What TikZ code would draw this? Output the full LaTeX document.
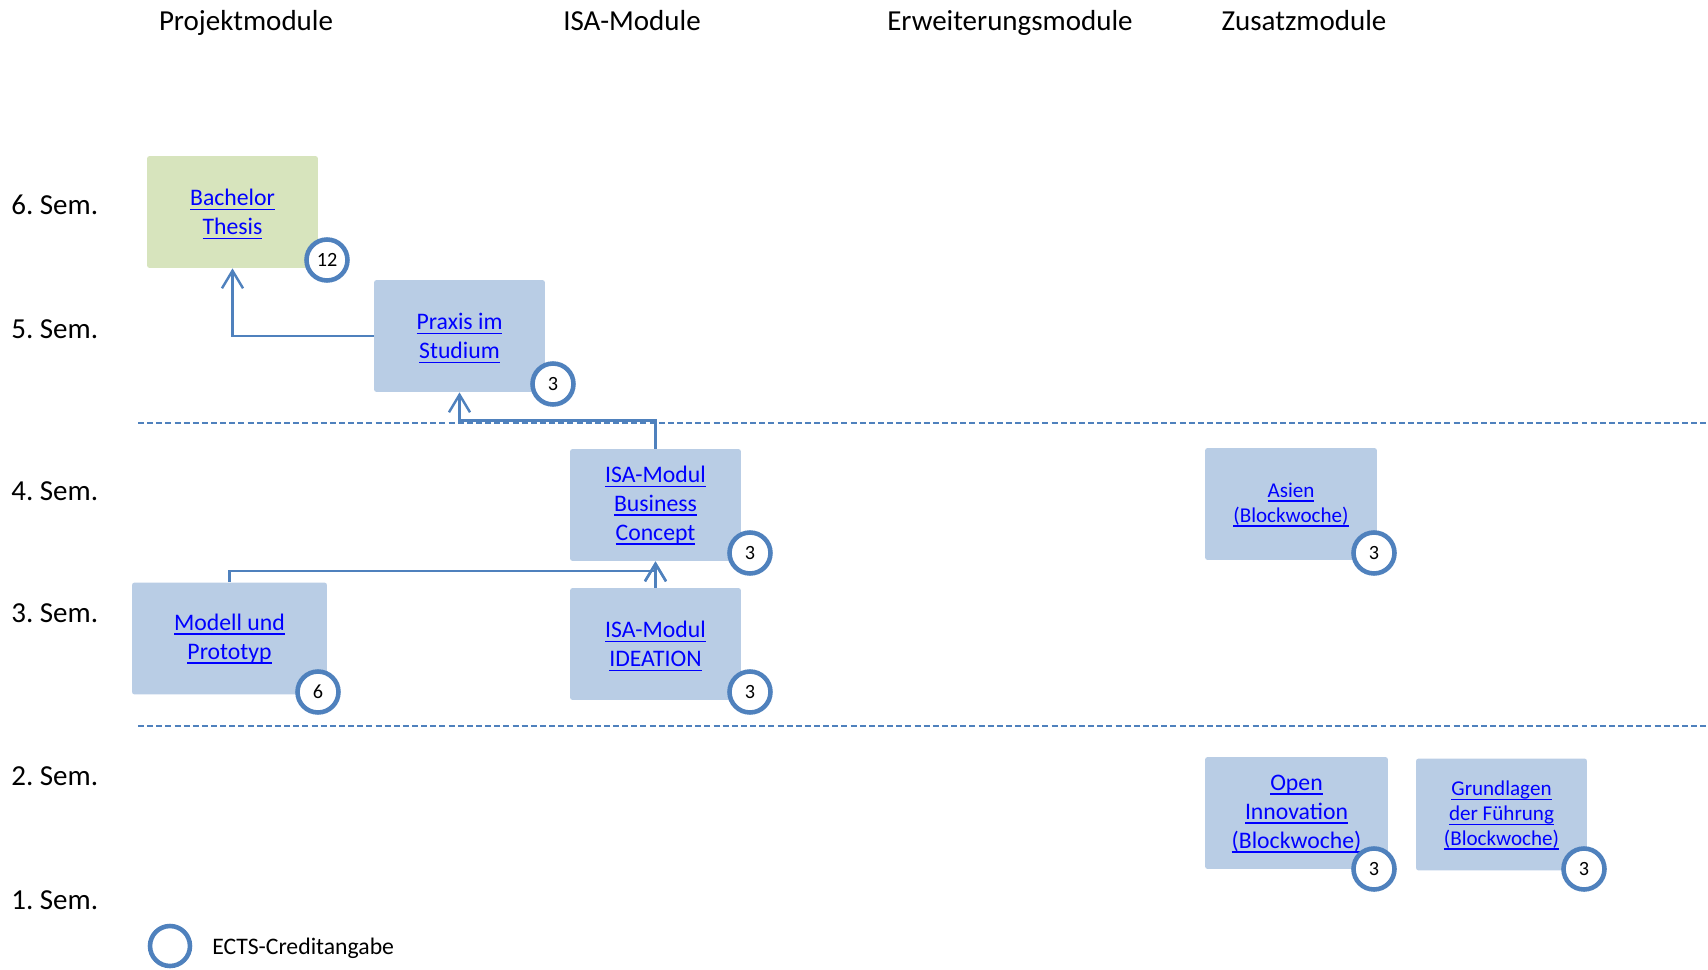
\documentclass[tikz,border=0pt]{standalone}
\usepackage{fontspec}
\setmainfont{Carlito}
\usepackage{xcolor}
\usepackage{tikz}
\usetikzlibrary{arrows.meta}

\definecolor{modblue}{HTML}{B9CDE5}
\definecolor{modgreen}{HTML}{D7E4BD}
\definecolor{ectsblue}{HTML}{4F81BD}
\definecolor{linkblue}{HTML}{0000FF}

% underlined link text
\newcommand{\lnk}[1]{\textcolor{linkblue}{\setbox0\hbox{#1}\rlap{\raisebox{-2.6pt}[0pt][0pt]{\rule{\wd0}{0.8pt}}}\box0}}
\frenchspacing

\begin{document}
\begin{tikzpicture}[x=0.02cm, y=-0.02cm, every node/.style={inner sep=0pt},
        modbox/.style={fill=modblue, rounded corners=1.5pt, minimum width=3.42cm, minimum height=2.24cm,
            align=center, font=\fontsize{13.5}{16.5}\selectfont},
        smallbox/.style={modbox, font=\fontsize{12}{14.2}\selectfont},
        ects/.style={circle, draw=ectsblue, line width=2.6pt, fill=white, minimum size=0.82cm,
            font=\fontsize{11.5}{13}\selectfont},
        conn/.style={draw=ectsblue, line width=1.4pt, -{Straight Barb[length=10pt,width=12pt]}},
        sepline/.style={draw=ectsblue, line width=0.9pt, dash pattern=on 3.4pt off 1.8pt},
        head/.style={font=\fontsize{16.5}{19}\selectfont, text height=11.5pt, text depth=3.5pt}]
            \useasboundingbox (0,0) rectangle (1708,970);
            % column headers
            \node[head] (hprojekt) at (246,23) {Projektmodule};
            \node[head] (hisa) at (632,23) {ISA-Module};
            \node[head] (herw) at (1010,23) {Erweiterungsmodule};
            \node[head] (hzusatz) at (1304,23) {Zusatzmodule};
            % semesters
            \foreach \n/\y in {6/207,5/331,4/493,3/615,2/778,1/902}
                \node[head, anchor=west] (sem\n) at (11,\y) {\n. Sem.};
            \foreach \y in {423,726}
                \draw[sepline] (138,\y) -- (1708,\y);
            % modules
            \node[modbox, fill=modgreen] (thesis) at (232.5,212) {\lnk{Bachelor}\\\lnk{Thesis}};
            \node[modbox] (praxis) at (459.5,336) {\lnk{Praxis im}\\\lnk{Studium}};
            \node[modbox] (business) at (655.5,505) {\lnk{ISA-Modul}\\\lnk{Business}\\\lnk{Concept}};
            \node[modbox, minimum width=3.9cm] (modell) at (229.5,638.5) {\lnk{Modell und}\\\lnk{Prototyp}};
            \node[modbox] (ideation) at (655.5,644) {\lnk{ISA-Modul}\\\lnk{IDEATION}};
            \node[smallbox, minimum width=3.44cm] (asien) at (1291,504) {\lnk{Asien}\\\lnk{(Blockwoche)}};
            \node[modbox, minimum width=3.66cm] (openinno) at (1296.5,813) {\lnk{Open}\\\lnk{Innovation}\\\lnk{(Blockwoche)}};
            \node[smallbox] (fuehrung) at (1501.5,814.5) {\lnk{Grundlagen}\\\lnk{der Führung}\\\lnk{(Blockwoche)}};
            % connectors
            \draw[conn] (praxis.west) -| (thesis.south);
            \draw[conn] (business.north) -- ++(0,-28) -| (praxis.south);
            \draw[conn] (modell.north) -- ++(0,-11) -| (business.south);
            \draw[conn] (ideation.north) -- (business.south);
            % ECTS credits
            \node[ects] (thesis-ects) at (327,260) {12};
            \node[ects] (praxis-ects) at (553,384) {3};
            \node[ects] (business-ects) at (750,553) {3};
            \node[ects] (modell-ects) at (318,692) {6};
            \node[ects] (ideation-ects) at (750,692) {3};
            \node[ects] (asien-ects) at (1374,553) {3};
            \node[ects] (openinno-ects) at (1374,869) {3};
            \node[ects] (fuehrung-ects) at (1584,869) {3};
            % legend
            \node[ects, fill=none, minimum size=0.8cm] (legend) at (170,946) {};
            \node[anchor=west, font=\fontsize{13.5}{16.5}\selectfont] (legendtext) at (212,948) {ECTS-Creditangabe};
        \end{tikzpicture}
\end{document}
